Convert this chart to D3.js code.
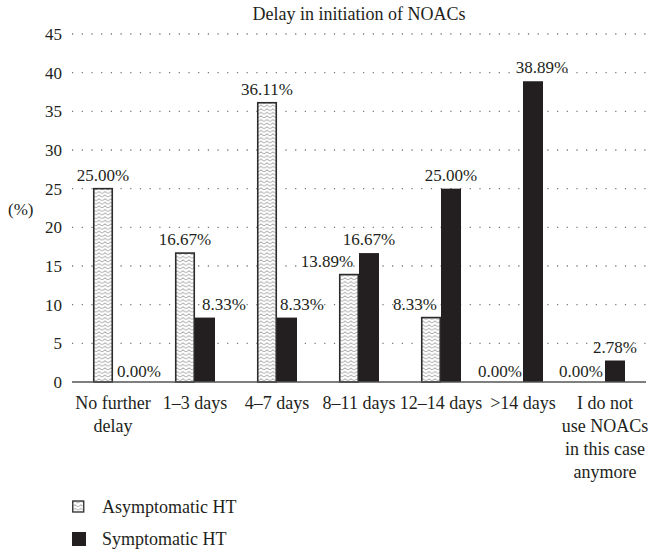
<!DOCTYPE html>
<html>
<head>
<meta charset="utf-8">
<script src="https://cdn.jsdelivr.net/npm/d3@7"></script>
<style>
  body { margin: 0; background: #fff; }
  svg text { fill: #231f20; }
</style>
</head>
<body>
<div id="chart"></div>
<script>
// chart data
var categories = [
    ["No further", "delay"],
    ["1–3 days"],
    ["4–7 days"],
    ["8–11 days"],
    ["12–14 days"],
    [">14 days"],
    ["I do not", "use NOACs", "in this case", "anymore"]
];
var asymptomatic = [25.00, 16.67, 36.11, 13.89, 8.33, 0.00, 0.00];
var symptomatic = [0.00, 8.33, 8.33, 16.67, 25.00, 38.89, 2.78];
var yTicks = [0, 5, 10, 15, 20, 25, 30, 35, 40, 45];
var seriesNames = ["Asymptomatic HT", "Symptomatic HT"];

// label nudges so texts don't collide with the neighbouring bar
var asymNudge = [0, 0, 0, -22, -16, -13, -14];
var sympNudge = [16, 19, 15, 0, 0, 9, 0];

var width = 651, height = 552;
var margin = {top: 34, left: 72, right: 5, bottom: 170};
var FONT = "Liberation Serif";

var svg = d3.select("#chart").append("svg")
    .attr("width", width)
    .attr("height", height);

var defs = svg.append("defs");
var pat = defs.append("pattern")
    .attr("id", "zigzag")
    .attr("patternUnits", "userSpaceOnUse")
    .attr("width", 6)
    .attr("height", 3.6);
pat.append("rect").attr("width", 6).attr("height", 3.6).attr("fill", "#fff");
pat.append("path")
    .attr("d", "M0,3 L1.5,1.6 L3,0.8 L4.5,1.6 L6,3")
    .attr("fill", "none")
    .attr("stroke", "#6a6a6a")
    .attr("stroke-width", 0.7);

var x = d3.scaleBand()
    .domain(d3.range(categories.length))
    .range([margin.left, width - margin.right])
    .paddingInner(0);

var y = d3.scaleLinear()
    .domain([0, 45])
    .range([382, margin.top]);

var barW = 20;

// title
svg.append("text")
    .attr("x", 359)
    .attr("y", 20)
    .attr("text-anchor", "middle")
    .attr("font-family", FONT)
    .attr("font-size", 18)
    .text("Delay in initiation of NOACs");

// dotted grid lines
svg.append("g").selectAll("line.grid")
    .data(yTicks.filter(function(d){ return d > 0; }))
    .enter().append("line")
    .attr("class", "grid")
    .attr("x1", margin.left)
    .attr("x2", width - margin.right)
    .attr("y1", function(d){ return y(d); })
    .attr("y2", function(d){ return y(d); })
    .attr("stroke", "#777")
    .attr("stroke-width", 1.3)
    .attr("stroke-dasharray", "1.2,8.5");

// y tick labels
svg.append("g").selectAll("text.tick")
    .data(yTicks)
    .enter().append("text")
    .attr("class", "tick")
    .attr("x", 62)
    .attr("y", function(d){ return y(d) + 6; })
    .attr("text-anchor", "end")
    .attr("font-family", FONT)
    .attr("font-size", 17)
    .text(function(d){ return d; });

svg.append("text")
    .attr("x", 8)
    .attr("y", 215)
    .attr("font-family", FONT)
    .attr("font-size", 17)
    .text("(%)");

var rows = categories.map(function(c, i){
    return {i: i, asym: asymptomatic[i], symp: symptomatic[i]};
});

function center(d){ return x(d.i) + x.bandwidth() / 2; }

// asymptomatic bars (hatched)
svg.append("g").selectAll("rect.asym")
    .data(rows.filter(function(d){ return d.asym > 0; }))
    .enter().append("rect")
    .attr("class", "asym")
    .attr("x", function(d){ return center(d) - barW + 0.75; })
    .attr("y", function(d){ return y(d.asym); })
    .attr("width", barW - 1.5)
    .attr("height", function(d){ return y(0) - y(d.asym); })
    .attr("fill", "url(#zigzag)")
    .attr("stroke", "#2b2b2b")
    .attr("stroke-width", 1.6);

// symptomatic bars (solid)
svg.append("g").selectAll("rect.symp")
    .data(rows.filter(function(d){ return d.symp > 0; }))
    .enter().append("rect")
    .attr("class", "symp")
    .attr("x", function(d){ return center(d); })
    .attr("y", function(d){ return y(d.symp); })
    .attr("width", barW)
    .attr("height", function(d){ return y(0) - y(d.symp); })
    .attr("fill", "#231f20");

// baseline
svg.append("line")
    .attr("x1", margin.left)
    .attr("x2", width - margin.right)
    .attr("y1", y(0))
    .attr("y2", y(0))
    .attr("stroke", "#555")
    .attr("stroke-width", 1.5);

// value labels
function gap(v){ return v > 0 ? 8 : 5; }

svg.append("g").selectAll("text.asymLbl")
    .data(rows)
    .enter().append("text")
    .attr("class", "asymLbl")
    .attr("x", function(d){ return center(d) - barW / 2 + asymNudge[d.i]; })
    .attr("y", function(d){ return y(d.asym) - gap(d.asym); })
    .attr("text-anchor", "middle")
    .attr("font-family", FONT)
    .attr("font-size", 17)
    .text(function(d){ return d.asym.toFixed(2) + "%"; });

svg.append("g").selectAll("text.sympLbl")
    .data(rows)
    .enter().append("text")
    .attr("class", "sympLbl")
    .attr("x", function(d){ return center(d) + barW / 2 + sympNudge[d.i]; })
    .attr("y", function(d){ return y(d.symp) - gap(d.symp); })
    .attr("text-anchor", "middle")
    .attr("font-family", FONT)
    .attr("font-size", 17)
    .text(function(d){ return d.symp.toFixed(2) + "%"; });

// category labels
var cat = svg.append("g").selectAll("text.cat")
    .data(rows)
    .enter().append("text")
    .attr("class", "cat")
    .attr("text-anchor", "middle")
    .attr("font-family", FONT)
    .attr("font-size", 18);

cat.selectAll("tspan")
    .data(function(d){
        return categories[d.i].map(function(line){ return {line: line, cx: center(d)}; });
    })
    .enter().append("tspan")
    .attr("x", function(t){ return t.cx; })
    .attr("y", function(t, k){ return 409 + k * 23; })
    .text(function(t){ return t.line; });

// legend
var legend = svg.append("g").attr("transform", "translate(72,0)");
legend.append("rect")
    .attr("x", 0.75).attr("y", 501)
    .attr("width", 11).attr("height", 11)
    .attr("fill", "url(#zigzag)")
    .attr("stroke", "#2b2b2b")
    .attr("stroke-width", 1.3);
legend.append("rect")
    .attr("x", 0).attr("y", 532)
    .attr("width", 14).attr("height", 14)
    .attr("fill", "#231f20");
legend.selectAll("text")
    .data(seriesNames)
    .enter().append("text")
    .attr("x", 30)
    .attr("y", function(d, i){ return 513 + i * 32; })
    .attr("font-family", FONT)
    .attr("font-size", 18)
    .text(function(d){ return d; });
</script>
</body>
</html>
